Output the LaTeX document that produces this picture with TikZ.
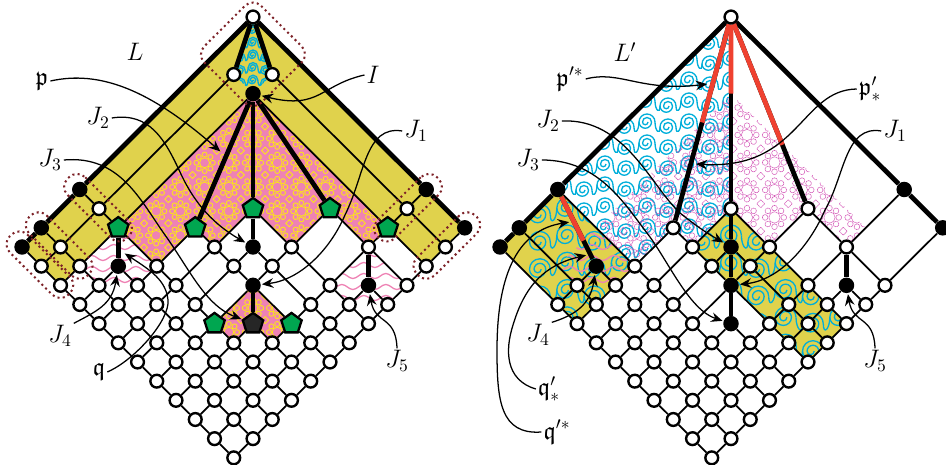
\documentclass[tikz,border=0pt]{standalone}
\usepackage{amssymb}
\usepackage[dvipsnames]{xcolor}
\usetikzlibrary{arrows.meta,calc,shapes.geometric,decorations.pathmorphing}
\definecolor{bandyellow}{HTML}{E0D24C}
\definecolor{lacepink}{HTML}{EE82B4}
\definecolor{laceyellow}{HTML}{FBE31C}
\definecolor{lacemagenta}{HTML}{D45AB8}
\definecolor{swirlcyan}{HTML}{00AEDA}
\definecolor{heavyred}{HTML}{EF4130}
\definecolor{filterbrown}{HTML}{7D2228}
\definecolor{pentgreen}{HTML}{00A650}
\pgfdeclarelayer{fills}
\pgfdeclarelayer{edges}
\pgfsetlayers{fills,edges,main}
\tikzset{
  lat/.style={
    x={(0.385cm,-0.3834cm)},
    y={(-0.385cm,-0.3834cm)}
  },
  wnode/.style={
    shape = circle,
    draw,
    fill = white,
    line width = 1.36pt,
    inner sep = 0pt,
    minimum size = 0.256cm
  },
  bnode/.style={
    shape = circle,
    fill = black,
    inner sep = 0pt,
    minimum size = 0.31cm
  },
  pnode/.style={
    shape = regular polygon,
    regular polygon sides = 5,
    draw,
    fill = pentgreen,
    line width = 1.3pt,
    inner sep = 0pt,
    minimum size = 0.43cm
  },
  edge/.style={line width = 1pt},
  heavy/.style={line width = 2.7pt},
  swirl/.style={draw = swirlcyan, line width = 0.75pt},
  wave/.style={
    draw = lacepink,
    line width = 0.75pt,
    decorate,
    decoration={snake, amplitude=0.05cm, segment length=0.44cm}
  },
  lacefill/.style={draw = laceyellow, line width = 0.5pt},
  laceline/.style={draw = lacemagenta, line width = 0.35pt, dash pattern = on 0.8pt off 0.3pt},
  filterline/.style={
    draw = filterbrown,
    line width = 1.15pt,
    dash pattern = on 1.15pt off 1.85pt,
    rounded corners = 0.23cm
  },
  note/.style={
    line width = 0.72pt,
    -{Stealth[length=6.5pt,width=5.5pt,inset=2.2pt]},
    shorten >= 0.5pt
  },
  lab/.style={font = \Large, inner sep = 1pt}
}
% spirals on a grid: scale, columns, rows
\newcommand{\swirls}[3]{
  \begin{scope}[x=0.02cm,y=-0.02cm,scale=#1]
    \foreach \i in {#2} \foreach \j in {#3} {
      \pgfmathsetmacro{\X}{21*\i}
      \pgfmathsetmacro{\Y}{21*\j+5*mod(abs(\i),2)}
      \pgfmathsetmacro{\Z}{21*\j+5*mod(abs(\i+1),2)}
      \draw[swirl] ({\X+8},\Y) arc[start angle=0,end angle=180,radius=0.16cm]
        arc[start angle=180,end angle=360,radius=0.125cm]
        arc[start angle=0,end angle=180,radius=0.09cm]
        arc[start angle=180,end angle=360,radius=0.055cm];
      \draw[swirl] ({\X+8},\Y) .. controls ({\X+8},{\Y+9}) and ({\X+13},{\Z+9}) .. ({\X+13},\Z);
    }
  \end{scope}
}
% rosettes: style, scale, origin, columns, rows
\newcommand{\lacework}[5]{
  \begin{scope}[x=0.02cm,y=-0.02cm,shift={#3},scale=#2]
    \foreach \i in {#4} \foreach \j in {#5} {
      \pgfmathsetmacro{\X}{24.2*\i}
      \pgfmathsetmacro{\Y}{24.2*\j}
      \draw[#1] (\X,\Y) circle[radius=0.1cm];
      \foreach \t in {0,45,...,315}
        \draw[#1] ({\X+8.2*cos(\t)},{\Y+8.2*sin(\t)}) circle[radius=0.05cm];
      \draw[#1] ({\X+12.1},{\Y+8.6}) -- ({\X+15.6},{\Y+12.1}) -- ({\X+12.1},{\Y+15.6}) -- ({\X+8.6},{\Y+12.1}) -- cycle;
    }
  \end{scope}
}
\newcommand{\wavelines}[3]{
  \begin{scope}[x=0.02cm,y=-0.02cm]
    \foreach \y in {#3} {
      \draw[wave] (#1,\y) -- (#2,\y);
    }
  \end{scope}
}
\begin{document}
\begin{tikzpicture}[x=0.02cm,y=-0.02cm]
  \useasboundingbox (0,0) rectangle (946,465);

  % what both lattices share
  \foreach \side/\dx in {L/253,R/731}{
    \begin{scope}[shift={(\dx,17)},lat]
      \node[wnode] (\side-0-0) at (0,0) {};
      \foreach \a/\b in {0/9,0/11,0/12,9/0,11/0,3/10,6/6,7/7,10/4}
        \node[bnode] (\side-\a-\b) at (\a,\b) {};
      \foreach \a/\blist in {3/{11,12},4/{9,10,11,12},5/{7,9,10,11,12},6/{7,9,10,11,12},7/{5,6,10,11,12},8/{9,10,11,12},9/{3,5,6,8,9,10,11,12},10/{5,6,7,8,9,10,11,12},11/{3,4,5,6,7,8,9,10,11,12}}
        \foreach \b in \blist
          \node[wnode] (\side-\a-\b) at (\a,\b) {};
    \end{scope}
  }
  % left lattice only
  \begin{scope}[shift={(253,17)},lat]
    \foreach \a/\b in {1/2,2/1,1/9,9/1,1/11,2/11,1/12,2/12,11/1,11/2}
      \node[wnode] (L-\a-\b) at (\a,\b) {};
    \node[bnode] (L-2-2) at (2,2) {};
    \foreach \a/\b in {2/9,4/7,5/5,7/3,9/2,7/9,9/7}
      \node[pnode] (L-\a-\b) at (\a,\b) {};
    \node[pnode, fill=black!85!white] (L-8-8) at (8,8) {};
  \end{scope}
  % right lattice only
  \begin{scope}[shift={(731,17)},lat]
    \foreach \a/\b in {4/7,5/5,7/3,7/9,9/7}
      \node[wnode] (R-\a-\b) at (\a,\b) {};
    \node[bnode] (R-8-8) at (8,8) {};
  \end{scope}

  \begin{pgfonlayer}{fills}
    % left fillings
    \begin{scope}[shift={(253,17)},lat]
      \fill[bandyellow] (0,0) -- (0,12) -- (2,12) -- (2,2) -- (11,2) -- (11,0) -- cycle;
      \begin{scope}
        \clip (0,0) -- (1,2) -- (2,2) -- (2,1) -- cycle;
        \swirls{0.6}{-2,...,1}{0,...,6}
      \end{scope}
      \fill[lacepink] (2,2) -- (2,9) -- (4,9) -- (4,7) -- (5,7) -- (5,5) -- (7,5) -- (7,3) -- (9,3) -- (9,2) -- cycle;
      \fill[lacepink] (7,7) -- (7,9) -- (8,9) -- (8,8) -- (9,8) -- (9,7) -- cycle;
      \begin{scope}
        \clip (2,2) -- (2,9) -- (4,9) -- (4,7) -- (5,7) -- (5,5) -- (7,5) -- (7,3) -- (9,3) -- (9,2) -- cycle
              (7,7) -- (7,9) -- (8,9) -- (8,8) -- (9,8) -- (9,7) -- cycle;
        \lacework{lacefill}{1}{(0,170)}{-6,...,6}{-4,...,6}
      \end{scope}
      \begin{scope}
        \clip (2,9) -- (2,11) -- (3,11) -- (4,10) -- (4,9) -- cycle;
        \wavelines{-190}{-80}{175,186,...,295}
      \end{scope}
      \begin{scope}
        \clip (9,3) -- (9,5) -- (10,5) -- (11,4) -- (11,3) -- cycle;
        \wavelines{60}{170}{215,226,...,305}
      \end{scope}
    \end{scope}
    % right fillings
    \begin{scope}[shift={(731,17)},lat]
      \fill[bandyellow] (0,9) -- (0,12) -- (4,12) -- (4,9) -- cycle;
      \fill[bandyellow] (5,5) -- (5,7) -- (11,7) -- (11,5) -- cycle;
      \begin{scope}
        \clip (0,0) -- (0,9) -- (4,9) -- (4,7) -- (5,7) -- (5,5) -- cycle;
        \swirls{1}{-9,...,0}{0,...,11}
      \end{scope}
      \begin{scope}
        \clip (0,9) -- (0,12) -- (4,12) -- (4,9) -- cycle
              (5,5) -- (5,7) -- (11,7) -- (11,5) -- cycle;
        \swirls{1.3}{-7,...,5}{4,...,12}
      \end{scope}
      \begin{scope}
        \clip (2,2) -- (2,9) -- (4,9) -- (4,7) -- (5,7) -- (5,5) -- (7,5) -- (7,3) -- (9,3) -- (9,2) -- cycle;
        \lacework{laceline}{1.136}{(16,118)}{-5,...,4}{-1,...,4}
      \end{scope}
      \begin{scope}
        \clip (2,9) -- (2,11) -- (3,11) -- (4,10) -- (4,9) -- cycle;
        \wavelines{-190}{-80}{175,186,...,295}
      \end{scope}
    \end{scope}
  \end{pgfonlayer}

  \begin{pgfonlayer}{edges}
    % shared lines of the lattices
    \foreach \side in {L,R}{
      \foreach \a/\blist in {3/{10,11,12},4/{7,9,10,11,12},5/{5,7,9,10,11,12},6/{6,7,9,10,11,12},7/{3,5,6,7,9,10,11,12},8/{8,9,10,11,12},9/{3,5,6,7,8,9,10,11,12},10/{4,5,6,7,8,9,10,11,12},11/{3,4,5,6,7,8,9,10,11,12}}
        \foreach \b [count=\k, remember=\b as \pb] in \blist {
          \ifnum\k>1 \draw[edge] (\side-\a-\pb) -- (\side-\a-\b); \fi
        }
      \foreach \b/\alist in {3/{7,9,11},4/{10,11},5/{5,7,9,10,11},6/{6,7,9,10,11},7/{4,5,6,7,9,10,11},8/{8,9,10,11},9/{4,5,6,7,8,9,10,11},10/{3,4,5,6,7,8,9,10,11},11/{3,4,5,6,7,8,9,10,11},12/{3,4,5,6,7,8,9,10,11}}
        \foreach \a [count=\k, remember=\a as \pa] in \alist {
          \ifnum\k>1 \draw[edge] (\side-\pa-\b) -- (\side-\a-\b); \fi
        }
      \draw[heavy] (\side-0-0) -- (\side-0-9) -- (\side-0-11) -- (\side-0-12);
      \draw[heavy] (\side-0-0) -- (\side-9-0) -- (\side-11-0);
      \draw[heavy] (\side-9-3) -- (\side-10-4);
      \draw[heavy] (\side-5-5) -- (\side-6-6);
      \draw[heavy] (\side-7-7) -- (\side-8-8);
    }
    % left lattice
    \foreach \p/\q in {1-2/1-9,1-9/1-11,1-11/1-12,2-2/2-9,2-9/2-11,2-11/2-12,2-1/9-1,9-1/11-1,2-2/9-2,9-2/11-2,9-0/9-1,9-1/9-2,9-2/9-3,11-0/11-1,11-1/11-2,11-2/11-3,0-9/1-9,1-9/2-9,2-9/4-9,0-11/1-11,1-11/2-11,2-11/3-11,0-12/1-12,1-12/2-12,2-12/3-12}
      \draw[edge] (L-\p) -- (L-\q);
    \foreach \p/\q in {0-0/1-2,0-0/2-1,2-2/4-7,2-2/5-5,2-2/7-3,2-9/3-10}
      \draw[heavy] (L-\p) -- (L-\q);
    % right lattice
    \foreach \p/\q in {9-0/9-3,11-0/11-3,0-9/4-9,0-11/3-11,0-12/3-12}
      \draw[edge] (R-\p) -- (R-\q);
    \foreach \p/\q in {0-0/4-7,0-0/5-5,0-0/7-3,0-9/3-10,6-6/7-7}
      \draw[heavy] (R-\p) -- (R-\q);
    \foreach \p/\q/\f in {0-0/4-7/0.5,0-0/5-5/0.4,0-0/7-3/0.667,0-9/3-10/0.667}
      \draw[heavy, heavyred] (R-\p) -- ($(R-\p)!\f!(R-\q)$);
  \end{pgfonlayer}

  % dotted outlines of the left lattice
  \begin{scope}[shift={(253,17)},lat]
    \draw[filterline] (-0.5,-0.5) -- (2.45,-0.5) -- (2.45,2.45) -- (-0.5,2.45) -- cycle;
    \draw[filterline] (-0.6,8.54) -- (2.5,8.54) -- (2.5,9.46) -- (-0.6,9.46) -- cycle;
    \draw[filterline] (-0.6,10.54) -- (2.45,10.54) -- (2.45,11.46) -- (-0.6,11.46) -- cycle;
    \draw[filterline] (-0.6,11.54) -- (2.45,11.54) -- (2.45,12.46) -- (-0.6,12.46) -- cycle;
    \draw[filterline] (8.54,-0.6) -- (8.54,2.5) -- (9.46,2.5) -- (9.46,-0.6) -- cycle;
    \draw[filterline] (10.54,-0.6) -- (10.54,2.45) -- (11.46,2.45) -- (11.46,-0.6) -- cycle;
  \end{scope}

  % labels and arrows, left
  \node[lab] at (135,52) {$L$};
  \node[lab] (pL) at (42,81) {$\mathfrak{p}$};
  \node[lab] (IL) at (373,75) {$I$};
  \node[lab] (J1L) at (416,131) {$J_1$};
  \node[lab] (J2L) at (98,118) {$J_2$};
  \node[lab] (J3L) at (50,160) {$J_3$};
  \node[lab] (J4L) at (60,336) {$J_4$};
  \node[lab] (J5L) at (397,361) {$J_5$};
  \node[lab] (qL) at (99,372) {$\mathfrak{q}$};
  \coordinate (pTip) at (221,152);
  \coordinate (qTip) at (124,253);
  \draw[note] (pL.east) .. controls (100,70) and (150,90) .. (pTip);
  \draw[note] (IL.west) .. controls (320,85) and (320,110) .. (L-2-2);
  \draw[note] (J1L.west) .. controls (365,125) and (365,175) .. (345,215) .. controls (330,250) and (300,280) .. (L-7-7);
  \draw[note] (J2L.east) .. controls (150,112) and (165,140) .. (180,172) .. controls (195,205) and (215,225) .. (L-6-6);
  \draw[note] (J3L.east) .. controls (120,155) and (140,200) .. (165,235) .. controls (190,270) and (205,305) .. (L-8-8);
  \draw[note] (J4L.north east) .. controls (95,312) and (112,305) .. (L-3-10);
  \draw[note] (J5L.north) .. controls (396,315) and (375,325) .. (L-10-4);
  \draw[note] (qL.east) .. controls (135,360) and (170,320) .. (168,300) .. controls (166,280) and (150,270) .. (qTip);

  % labels and arrows, right
  \node[lab] at (625,52) {$L'$};
  \node[lab] (pstarR) at (570,79) {$\mathfrak{p}'^{*}$};
  \node[lab] (plowR) at (870,89) {$\mathfrak{p}'_{*}$};
  \node[lab] (J1R) at (895,131) {$J_1$};
  \node[lab] (J2R) at (548,121) {$J_2$};
  \node[lab] (J3R) at (528,160) {$J_3$};
  \node[lab] (J4R) at (538,335) {$J_4$};
  \node[lab] (J5R) at (875,361) {$J_5$};
  \node[lab] (qlowR) at (549,389) {$\mathfrak{q}'_{*}$};
  \node[lab] (qstarR) at (557,432) {$\mathfrak{q}'^{*}$};
  \coordinate (pstarTip) at (708,84);
  \coordinate (plowTip) at (695,164);
  \coordinate (qlowTip) at (587,255);
  \coordinate (qstarTip) at (570,222);
  \draw[note] (pstarR.east) .. controls (620,70) and (640,92) .. (pstarTip);
  \draw[note] (plowR.west) .. controls (800,90) and (800,170) .. (plowTip);
  \draw[note] (J1R.west) .. controls (845,125) and (845,175) .. (825,210) .. controls (810,245) and (780,280) .. (R-7-7);
  \draw[note] (J2R.east) .. controls (625,118) and (650,185) .. (680,213) .. controls (695,225) and (705,232) .. (R-6-6);
  \draw[note] (J3R.east) .. controls (600,160) and (625,205) .. (650,237) .. controls (670,265) and (690,310) .. (R-8-8);
  \draw[note] (J4R.north east) .. controls (575,315) and (590,305) .. (R-3-10);
  \draw[note] (J5R.north) .. controls (874,315) and (853,325) .. (R-10-4);
  \draw[note] (qlowR.west) .. controls (505,380) and (505,350) .. (513,325) .. controls (525,285) and (545,265) .. (qlowTip);
  \draw[note] (qstarR.west) .. controls (500,435) and (497,400) .. (497,350) .. controls (497,270) and (520,230) .. (qstarTip);
\end{tikzpicture}
\end{document}
